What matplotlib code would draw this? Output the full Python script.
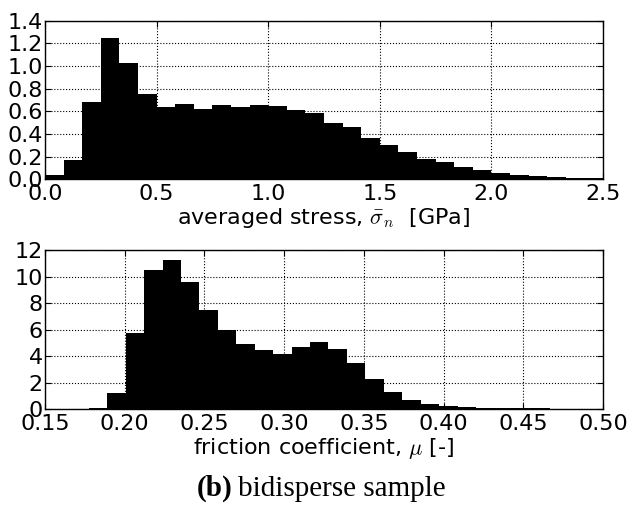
import numpy as np
import matplotlib
matplotlib.use("Agg")
import matplotlib.pyplot as plt

plt.rcParams['font.family'] = ['DejaVu Sans']
plt.rcParams['mathtext.fontset'] = 'cm'

# averaged stress histogram (30 bins over 0 .. 2.5 GPa)
stress_range = (0.0, 2.5)
stress_density = [0.038, 0.171, 0.68, 1.248, 1.027, 0.749, 0.640, 0.664, 0.622, 0.655,
                  0.637, 0.658, 0.646, 0.612, 0.583, 0.496, 0.466, 0.363, 0.304, 0.245,
                  0.183, 0.150, 0.112, 0.083, 0.059, 0.041, 0.030, 0.021, 0.015, 0.012]
stress_xticks = [0.0, 0.5, 1.0, 1.5, 2.0, 2.5]
stress_yticks = [0.0, 0.2, 0.4, 0.6, 0.8, 1.0, 1.2, 1.4]

# friction coefficient histogram (30 bins over data range)
friction_range = (0.1544, 0.5012)
friction_density = [0.05, 0.05, 0.12, 1.26, 5.71, 10.49, 11.25, 9.61, 7.45, 5.94,
                    4.93, 4.45, 4.20, 4.68, 5.08, 4.53, 3.50, 2.31, 1.31, 0.73,
                    0.43, 0.28, 0.20, 0.13, 0.10, 0.08, 0.06, 0.05, 0.04, 0.03]
friction_xticks = [0.15, 0.20, 0.25, 0.30, 0.35, 0.40, 0.45, 0.50]
friction_yticks = [0, 2, 4, 6, 8, 10, 12]


def draw_hist(ax, rng, density, xticks, yticks, xlabel, xfmt, yfmt):
  edges = np.linspace(rng[0], rng[1], len(density) + 1)
  ax.stairs(density, edges, fill=True, color='black', linewidth=0, zorder=1)
  ax.set_xlim(xticks[0], xticks[-1])
  ax.set_ylim(yticks[0], yticks[-1])
  ax.set_xticks(xticks)
  ax.set_yticks(yticks)
  ax.set_xticklabels([xfmt % v for v in xticks])
  ax.set_yticklabels([yfmt % v for v in yticks])
  ax.grid(True, color='black', linestyle=':', linewidth=0.8, zorder=0)
  ax.set_axisbelow(True)
  ax.tick_params(direction='in', top=True, right=True, length=4, labelsize=16)
  ax.tick_params(axis='y', pad=1.5)
  ax.tick_params(axis='x', pad=3.5)
  ax.set_xlabel(xlabel, fontsize=16, labelpad=1)
  for s in ax.spines.values():
    s.set_linewidth(1.0)


fig = plt.figure(figsize=(6.32, 5.09), dpi=100)
ax1 = fig.add_axes([0.0712, 0.6477, 0.883, 0.3116])
ax2 = fig.add_axes([0.0712, 0.1959, 0.883, 0.313])

draw_hist(ax1, stress_range, stress_density, stress_xticks, stress_yticks,
          r'averaged stress, $\bar{\sigma}_n$  [GPa]', '%.1f', '%.1f')
draw_hist(ax2, friction_range, friction_density, friction_xticks, friction_yticks,
          r'friction coefficient, $\mu$ [-]', '%.2f', '%d')

fig.text(197 / 632, 1 - 496 / 509, '(b)', fontsize=21, fontweight='bold',
         family='Liberation Serif', ha='left', va='baseline')
fig.text(238 / 632, 1 - 496 / 509, 'bidisperse sample', fontsize=21,
         family='Liberation Serif', ha='left', va='baseline')

fig.savefig('out.png', dpi=100)
